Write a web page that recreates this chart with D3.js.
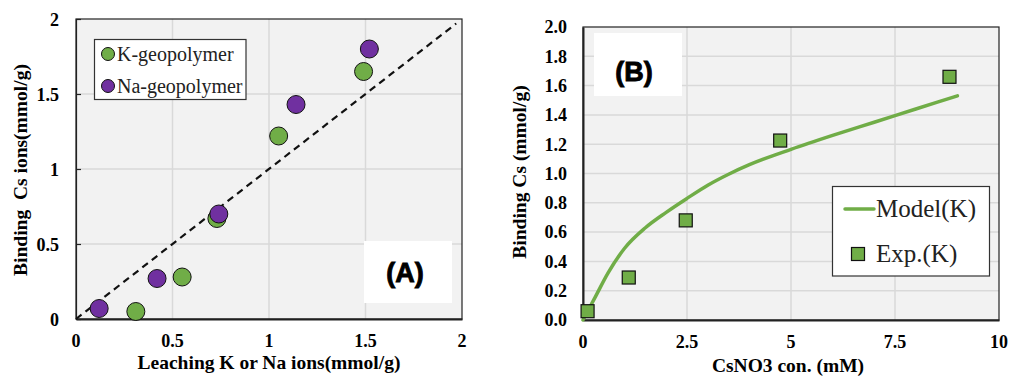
<!DOCTYPE html>
<html>
<head>
<meta charset="utf-8">
<script src="https://cdn.jsdelivr.net/npm/d3@7"></script>
<style>
  body { margin: 0; background: #fff; }
  svg { display: block; }
  .serif { font-family: "Liberation Serif", "Times New Roman", serif; }
</style>
</head>
<body>
<svg width="1010" height="376"></svg>
<script>
// ---- panel A data ----
var kLeach = [0.31, 0.55, 0.73, 1.05, 1.49];
var kBind  = [0.05, 0.28, 0.67, 1.22, 1.65];
var naLeach = [0.12, 0.42, 0.74, 1.14, 1.52];
var naBind  = [0.07, 0.27, 0.70, 1.43, 1.80];
var ticksA = [0, 0.5, 1, 1.5, 2];
var tickLabelsA = ["0", "0.5", "1", "1.5", "2"];

// ---- panel B data ----
var expConc = [0.11, 1.1, 2.47, 4.74, 8.81];
var expBind = [0.06, 0.29, 0.68, 1.225, 1.66];
var modelConc = [0, 0.3, 0.6, 1, 1.5, 2, 2.5, 3, 3.5, 4, 5, 6, 7, 8, 9];
var modelBind = [0, 0.16, 0.32, 0.49, 0.63, 0.735, 0.83, 0.92, 0.995, 1.06, 1.165, 1.26, 1.35, 1.44, 1.53];
var xTicksB = [0, 2.5, 5, 7.5, 10];
var xTickLabelsB = ["0", "2.5", "5", "7.5", "10"];
var yTicksB = [0, 0.2, 0.4, 0.6, 0.8, 1.0, 1.2, 1.4, 1.6, 1.8, 2.0];

var green = "#70ad47", purple = "#7030a0";
var svg = d3.select("svg");

// ================= panel A =================
var xA = d3.scaleLinear().domain([0, 2]).range([76, 462]);
var yA = d3.scaleLinear().domain([0, 2]).range([319, 19]);

var gA = svg.append("g");
gA.append("rect")
    .attr("x", xA(0)).attr("y", yA(2))
    .attr("width", xA(2) - xA(0)).attr("height", yA(0) - yA(2))
    .attr("fill", "#f2f2f2");

// gridlines
gA.selectAll(".vg").data(ticksA.slice(1, -1)).enter().append("line")
    .attr("x1", d => xA(d)).attr("x2", d => xA(d))
    .attr("y1", yA(0)).attr("y2", yA(2))
    .attr("stroke", "#d9d9d9").attr("stroke-width", 1.5);
gA.selectAll(".hg").data(ticksA.slice(1, -1)).enter().append("line")
    .attr("y1", d => yA(d)).attr("y2", d => yA(d))
    .attr("x1", xA(0)).attr("x2", xA(2))
    .attr("stroke", "#d9d9d9").attr("stroke-width", 1.5);

// axes (inward ticks on the left)
gA.append("g").attr("transform", "translate(" + xA(0) + ",0)")
    .call(d3.axisRight(yA).tickValues(ticksA).tickSize(5).tickFormat(""))
    .call(g => g.selectAll("line,path").attr("stroke", "#222").attr("stroke-width", 1.2));
gA.append("g").attr("transform", "translate(0," + yA(0) + ")")
    .call(d3.axisBottom(xA).tickValues(ticksA).tickSize(0).tickFormat(""))
    .call(g => g.select("path").attr("stroke", "#222").attr("stroke-width", 2));
// frame top/right
gA.append("rect")
    .attr("x", xA(0)).attr("y", yA(2))
    .attr("width", xA(2) - xA(0)).attr("height", yA(0) - yA(2))
    .attr("fill", "none").attr("stroke", "#222").attr("stroke-width", 1.2);

// tick labels
gA.selectAll(".yl").data(ticksA).enter().append("text")
    .attr("class", "serif")
    .attr("x", 59).attr("y", d => yA(d)).attr("dy", "0.4em")
    .attr("text-anchor", "end").attr("font-size", 18).attr("font-weight", "bold")
    .text((d, i) => tickLabelsA[i]);
gA.selectAll(".xl").data(ticksA).enter().append("text")
    .attr("class", "serif")
    .attr("x", d => xA(d)).attr("y", 347)
    .attr("text-anchor", "middle").attr("font-size", 18).attr("font-weight", "bold")
    .text((d, i) => tickLabelsA[i]);

// titles
gA.append("text").attr("class", "serif")
    .attr("x", 269).attr("y", 369)
    .attr("text-anchor", "middle").attr("font-size", 19.5).attr("font-weight", "bold")
    .text("Leaching K or Na ions(mmol/g)");
gA.append("text").attr("class", "serif")
    .attr("transform", "translate(27,170) rotate(-90)")
    .attr("text-anchor", "middle").attr("font-size", 19.5).attr("font-weight", "bold")
    .attr("xml:space", "preserve")
    .text("Binding  Cs ions(mmol/g)");

// 1:1 dashed line
gA.append("line")
    .attr("x1", xA(0)).attr("y1", yA(0))
    .attr("x2", xA(1.97)).attr("y2", yA(1.97))
    .attr("stroke", "#111").attr("stroke-width", 2.2)
    .attr("stroke-dasharray", "7,5");

// points
gA.selectAll(".kp").data(kLeach).enter().append("circle")
    .attr("cx", d => xA(d)).attr("cy", (d, i) => yA(kBind[i])).attr("r", 9)
    .attr("fill", green).attr("stroke", "#111").attr("stroke-width", 1);
gA.selectAll(".np").data(naLeach).enter().append("circle")
    .attr("cx", d => xA(d)).attr("cy", (d, i) => yA(naBind[i])).attr("r", 9)
    .attr("fill", purple).attr("stroke", "#111").attr("stroke-width", 1);

// legend A
var legA = gA.append("g");
legA.append("rect").attr("x", 94.5).attr("y", 39.5).attr("width", 151.5).attr("height", 60)
    .attr("fill", "#fff").attr("stroke", "#333").attr("stroke-width", 1.2);
[["K-geopolymer", green, 54], ["Na-geopolymer", purple, 86]].forEach(function(e) {
  legA.append("circle").attr("cx", 108).attr("cy", e[2]).attr("r", 6.5)
      .attr("fill", e[1]).attr("stroke", "#111").attr("stroke-width", 1);
  legA.append("text").attr("class", "serif")
      .attr("x", 117).attr("y", e[2]).attr("dy", "0.33em")
      .attr("font-size", 20).attr("fill", "#222").text(e[0]);
});

// (A) label
gA.append("rect").attr("x", 364).attr("y", 241).attr("width", 88).attr("height", 62).attr("fill", "#fff");
gA.append("text").attr("x", 405).attr("y", 272).attr("dy", "0.36em")
    .attr("text-anchor", "middle")
    .attr("font-family", "'Liberation Sans', Arial, sans-serif")
    .attr("font-size", 27).attr("font-weight", "bold")
    .attr("stroke", "#000").attr("stroke-width", 0.9)
    .text("(A)");

// ================= panel B =================
var xB = d3.scaleLinear().domain([0, 10]).range([583, 999]);
var yB = d3.scaleLinear().domain([0, 2]).range([320, 27]);

var gB = svg.append("g");
gB.append("rect")
    .attr("x", xB(0)).attr("y", yB(2))
    .attr("width", xB(10) - xB(0)).attr("height", yB(0) - yB(2))
    .attr("fill", "#f2f2f2");

gB.selectAll(".vg").data(xTicksB.slice(1, -1)).enter().append("line")
    .attr("x1", d => xB(d)).attr("x2", d => xB(d))
    .attr("y1", yB(0)).attr("y2", yB(2))
    .attr("stroke", "#d9d9d9").attr("stroke-width", 1.5);
gB.selectAll(".hg").data(yTicksB.slice(1, -1)).enter().append("line")
    .attr("y1", d => yB(d)).attr("y2", d => yB(d))
    .attr("x1", xB(0)).attr("x2", xB(10))
    .attr("stroke", "#d9d9d9").attr("stroke-width", 1.5);

gB.append("rect")
    .attr("x", xB(0)).attr("y", yB(2))
    .attr("width", xB(10) - xB(0)).attr("height", yB(0) - yB(2))
    .attr("fill", "none").attr("stroke", "#222").attr("stroke-width", 1.2);
gB.append("g").attr("transform", "translate(" + xB(0) + ",0)")
    .call(d3.axisLeft(yB).tickValues(yTicksB).tickSize(0).tickFormat(""))
    .call(g => g.select("path").attr("stroke", "#222").attr("stroke-width", 2));
gB.append("g").attr("transform", "translate(0," + yB(0) + ")")
    .call(d3.axisBottom(xB).tickValues(xTicksB).tickSize(0).tickFormat(""))
    .call(g => g.select("path").attr("stroke", "#222").attr("stroke-width", 2));

gB.selectAll(".yl").data(yTicksB).enter().append("text")
    .attr("class", "serif")
    .attr("x", 567).attr("y", d => yB(d)).attr("dy", "0.35em")
    .attr("text-anchor", "end").attr("font-size", 18).attr("font-weight", "bold")
    .text(d => d3.format(".1f")(d));
gB.selectAll(".xl").data(xTicksB).enter().append("text")
    .attr("class", "serif")
    .attr("x", d => xB(d)).attr("y", 348)
    .attr("text-anchor", "middle").attr("font-size", 18).attr("font-weight", "bold")
    .text((d, i) => xTickLabelsB[i]);

gB.append("text").attr("class", "serif")
    .attr("x", 788).attr("y", 371.5)
    .attr("text-anchor", "middle").attr("font-size", 19.5).attr("font-weight", "bold")
    .text("CsNO3 con. (mM)");
gB.append("text").attr("class", "serif")
    .attr("transform", "translate(526,172) rotate(-90)")
    .attr("text-anchor", "middle").attr("font-size", 19.5).attr("font-weight", "bold")
    .text("Binding Cs (mmol/g)");

// model curve
var line = d3.line()
    .x(d => xB(d[0])).y(d => yB(d[1]))
    .curve(d3.curveMonotoneX);
gB.append("path")
    .datum(modelConc.map((c, i) => [c, modelBind[i]]))
    .attr("d", line)
    .attr("fill", "none").attr("stroke", green).attr("stroke-width", 3.5)
    .attr("stroke-linecap", "round");

// exp squares
var sq = 13;
gB.selectAll(".ep").data(expConc).enter().append("rect")
    .attr("x", d => xB(d) - sq / 2).attr("y", (d, i) => yB(expBind[i]) - sq / 2)
    .attr("width", sq).attr("height", sq)
    .attr("fill", green).attr("stroke", "#111").attr("stroke-width", 1.2);

// legend B
var legB = gB.append("g");
legB.append("rect").attr("x", 832.5).attr("y", 186.5).attr("width", 157).attr("height", 89.5)
    .attr("fill", "#fff").attr("stroke", "#333").attr("stroke-width", 1.2);
legB.append("line").attr("x1", 845).attr("x2", 874).attr("y1", 209).attr("y2", 209)
    .attr("stroke", green).attr("stroke-width", 3.5).attr("stroke-linecap", "round");
legB.append("text").attr("class", "serif")
    .attr("x", 876).attr("y", 209).attr("dy", "0.33em")
    .attr("font-size", 25).attr("fill", "#222").text("Model(K)");
legB.append("rect").attr("x", 858 - sq / 2).attr("y", 254 - sq / 2).attr("width", sq).attr("height", sq)
    .attr("fill", green).attr("stroke", "#111").attr("stroke-width", 1.2);
legB.append("text").attr("class", "serif")
    .attr("x", 876).attr("y", 254).attr("dy", "0.33em")
    .attr("font-size", 25).attr("fill", "#222").text("Exp.(K)");

// (B) label
gB.append("rect").attr("x", 594).attr("y", 33).attr("width", 88).attr("height", 63).attr("fill", "#fff");
gB.append("text").attr("x", 634).attr("y", 71).attr("dy", "0.36em")
    .attr("text-anchor", "middle")
    .attr("font-family", "'Liberation Sans', Arial, sans-serif")
    .attr("font-size", 27).attr("font-weight", "bold")
    .attr("stroke", "#000").attr("stroke-width", 0.9)
    .text("(B)");
</script>
</body>
</html>
